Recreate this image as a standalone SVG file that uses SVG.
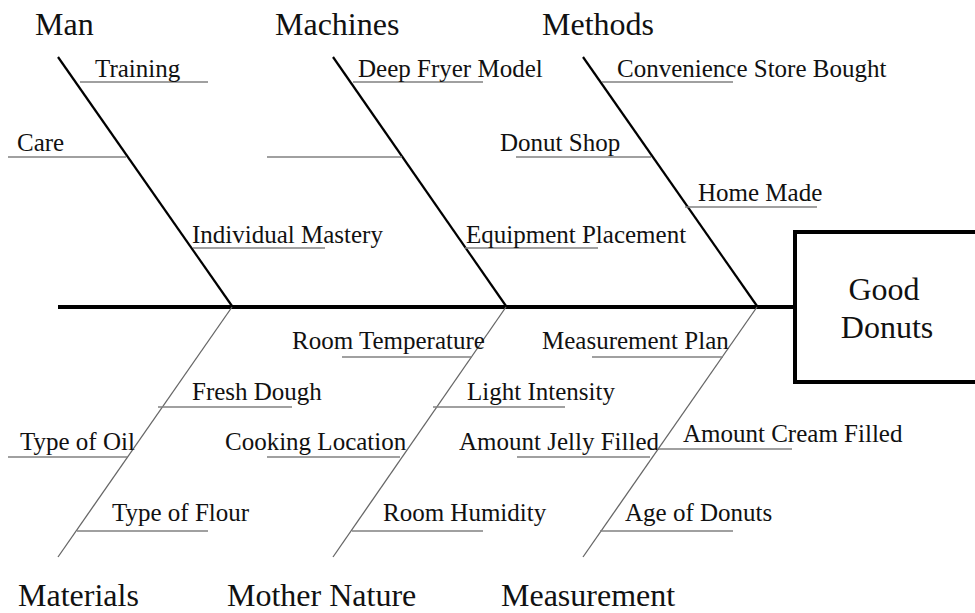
<svg xmlns="http://www.w3.org/2000/svg" width="975" height="613" viewBox="0 0 975 613">
<style>
  text { font-family: "Liberation Serif", "Times New Roman", serif; fill: #111; }
  .cat { font-size: 32px; }
  .lbl { font-size: 25px; }
  .big { font-size: 32px; }
  .spine { stroke: #000; stroke-width: 4; fill: none; }
  .ubone { stroke: #000; stroke-width: 2.2; fill: none; }
  .lbone { stroke: #666; stroke-width: 1.3; fill: none; }
  .sub { stroke: #808080; stroke-width: 1.6; fill: none; }
</style>
<rect width="975" height="613" fill="#fff"/>
<g id="connectors">
  <line class="spine" x1="58" y1="307" x2="795" y2="307"/>
  <line class="ubone" x1="58" y1="57" x2="232" y2="306"/>
  <line class="ubone" x1="333" y1="57" x2="506" y2="306"/>
  <line class="ubone" x1="583" y1="57" x2="757" y2="306"/>
  <line class="lbone" x1="232" y1="307" x2="58" y2="557"/>
  <line class="lbone" x1="506" y1="307" x2="333" y2="557"/>
  <line class="lbone" x1="757" y1="307" x2="583" y2="557"/>
</g>
<g id="effect">
  <rect x="795" y="232" width="200" height="150" fill="#fff" stroke="#000" stroke-width="4"/>
  <text class="big" x="884" y="300" text-anchor="middle">Good</text>
  <text class="big" x="887" y="338" text-anchor="middle">Donuts</text>
</g>
<g id="man">
  <text class="cat" x="35" y="35">Man</text>
  <line class="sub" x1="80" y1="82" x2="208" y2="82"/>
  <text class="lbl" x="95" y="77">Training</text>
  <line class="sub" x1="8" y1="157" x2="126" y2="157"/>
  <text class="lbl" x="17" y="151">Care</text>
  <line class="sub" x1="193" y1="248" x2="325" y2="248"/>
  <text class="lbl" x="192" y="243">Individual Mastery</text>
</g>
<g id="machines">
  <text class="cat" x="275" y="35">Machines</text>
  <line class="sub" x1="353" y1="82" x2="483" y2="82"/>
  <text class="lbl" x="358" y="77">Deep Fryer Model</text>
  <line class="sub" x1="267" y1="157" x2="402" y2="157"/>
  <line class="sub" x1="465" y1="248" x2="598" y2="248"/>
  <text class="lbl" x="466" y="243">Equipment Placement</text>
</g>
<g id="methods">
  <text class="cat" x="542" y="35">Methods</text>
  <line class="sub" x1="602" y1="82" x2="733" y2="82"/>
  <text class="lbl" x="617" y="77">Convenience Store Bought</text>
  <line class="sub" x1="516" y1="157" x2="651" y2="157"/>
  <text class="lbl" x="500" y="151">Donut Shop</text>
  <line class="sub" x1="685" y1="207" x2="817" y2="207"/>
  <text class="lbl" x="698" y="201">Home Made</text>
</g>
<g id="materials">
  <text class="cat" x="18" y="606">Materials</text>
  <line class="sub" x1="158" y1="407" x2="292" y2="407"/>
  <text class="lbl" x="192" y="400">Fresh Dough</text>
  <line class="sub" x1="8" y1="457" x2="127" y2="457"/>
  <text class="lbl" x="20" y="450">Type of Oil</text>
  <line class="sub" x1="77" y1="531" x2="208" y2="531"/>
  <text class="lbl" x="112" y="521">Type of Flour</text>
</g>
<g id="mother-nature">
  <text class="cat" x="227" y="606">Mother Nature</text>
  <line class="sub" x1="342" y1="357" x2="472" y2="357"/>
  <text class="lbl" x="292" y="349">Room Temperature</text>
  <line class="sub" x1="433" y1="407" x2="565" y2="407"/>
  <text class="lbl" x="467" y="400">Light Intensity</text>
  <line class="sub" x1="267" y1="457" x2="400" y2="457"/>
  <text class="lbl" x="225" y="450">Cooking Location</text>
  <line class="sub" x1="352" y1="531" x2="483" y2="531"/>
  <text class="lbl" x="383" y="521">Room Humidity</text>
</g>
<g id="measurement">
  <text class="cat" x="501" y="606">Measurement</text>
  <line class="sub" x1="592" y1="357" x2="723" y2="357"/>
  <text class="lbl" x="542" y="349">Measurement Plan</text>
  <line class="sub" x1="517" y1="457" x2="650" y2="457"/>
  <text class="lbl" x="459" y="450">Amount Jelly Filled</text>
  <line class="sub" x1="657" y1="449" x2="792" y2="449"/>
  <text class="lbl" x="683" y="442">Amount Cream Filled</text>
  <line class="sub" x1="600" y1="531" x2="733" y2="531"/>
  <text class="lbl" x="625" y="521">Age of Donuts</text>
</g>
</svg>
